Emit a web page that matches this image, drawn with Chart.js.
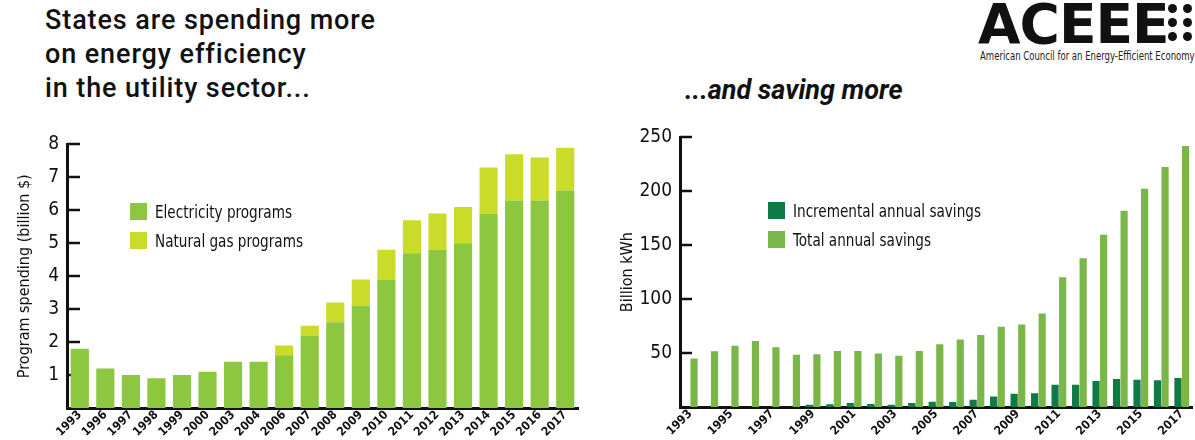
<!DOCTYPE html>
<html>
<head>
<meta charset="utf-8">
<script src="https://cdn.jsdelivr.net/npm/chart.js@4.4.1/dist/chart.umd.min.js"></script>
<style>
  body { margin: 0; background: #fff; width: 1195px; height: 440px; position: relative; overflow: hidden; font-family: Roboto, "Open Sans", sans-serif; }
  .title { position: absolute; left: 45px; top: 3px; font-size: 27px; font-weight: 500; line-height: 34px; letter-spacing: 0.9px; color: #111; }
  .subtitle { position: absolute; left: 685px; top: 73px; font-size: 27px; line-height: 34px; font-weight: 700; font-style: italic; color: #111; }
  .logo-big { position: absolute; left: 978px; top: -8px; font-family: "DejaVu Sans", sans-serif; font-weight: 700; font-size: 55px; letter-spacing: -1px; color: #111; }
  .dots { position: absolute; left: 1168px; top: 4px; display: grid; grid-template-columns: repeat(2, 9px); gap: 5px 6px; }
  .dots i { width: 9px; height: 9px; border-radius: 50%; background: #111; display: block; }
  .logo-small { position: absolute; left: 980px; top: 49px; font-family: "DejaVu Sans Condensed", sans-serif; font-size: 12px; color: #222; white-space: nowrap; transform: scaleX(0.79); transform-origin: left top; }
  .wrap { position: absolute; }
  .legend { position: absolute; font-family: "DejaVu Sans Condensed", sans-serif; font-size: 18px; color: #111; }
  .legend div { height: 29px; display: flex; align-items: center; }
  .legend span.sw { width: 17px; height: 17px; display: inline-block; margin-right: 8px; flex: none; }
  .legend span.tx { display: inline-block; transform: scaleX(0.84); transform-origin: left center; white-space: nowrap; }
</style>
</head>
<body>
<div class="title">States are spending more<br>on energy efficiency<br>in the utility sector...</div>
<div class="subtitle">...and saving more</div>
<div class="logo-big">ACEEE</div>
<div class="dots"><i></i><i></i><i></i><i></i><i></i><i></i></div>
<div class="logo-small">American Council for an Energy-Efficient Economy</div>

<div class="wrap" style="left:0;top:125px;width:590px;height:315px;"><canvas id="spend"></canvas></div>
<div class="wrap" style="left:600px;top:118px;width:595px;height:322px;"><canvas id="save"></canvas></div>
<div class="legend" id="legendSpend" style="left:130px;top:197px;"></div>
<div class="legend" id="legendSave" style="left:768px;top:196px;"></div>

<script>
// left chart: program spending (billion $)
const spendYears = ['1993','1996','1997','1998','1999','2000','2003','2004','2006','2007','2008','2009','2010','2011','2012','2013','2014','2015','2016','2017'];
const electricity = [1.8,1.2,1.0,0.9,1.0,1.1,1.4,1.4,1.6,2.2,2.6,3.1,3.9,4.7,4.8,5.0,5.9,6.3,6.3,6.6];
const naturalGas  = [0,0,0,0,0,0,0,0,0.3,0.3,0.6,0.8,0.9,1.0,1.1,1.1,1.4,1.4,1.3,1.3];

// right chart: savings (billion kWh)
const saveYears = ['1993','1994','1995','1996','1997','1998','1999','2000','2001','2002','2003','2004','2005','2006','2007','2008','2009','2010','2011','2012','2013','2014','2015','2016','2017'];
const incremental = [null,null,null,null,null,null,2,2.5,3.7,2.7,2,3.7,4.9,4.6,6.7,9.8,12.2,12.8,20.7,20.7,24,26,25.3,24.7,26.8];
const totalSavings = [45,51.8,56.7,61.3,55.5,48.5,49,52,52,49.7,47.6,52,58.2,62.5,66.8,74.4,76.5,86.6,120.4,138,159.8,182,202.4,222.6,242];

const narrow = '"DejaVu Sans Condensed", "DejaVu Sans", sans-serif';
Chart.defaults.font.family = narrow;
Chart.defaults.color = '#111';

// short tick marks pointing into the plot, like the original
const innerTicks = {
  id: 'innerTicks',
  beforeDatasetsDraw(chart, args, opts) {
    const y = chart.scales.y;
    const ctx = chart.ctx;
    ctx.save();
    ctx.strokeStyle = '#111';
    ctx.lineWidth = 2.5;
    y.ticks.forEach(t => {
      const py = Math.round(y.getPixelForValue(t.value));
      ctx.beginPath();
      ctx.moveTo(y.right, py);
      ctx.lineTo(y.right + opts.length, py);
      ctx.stroke();
    });
    ctx.restore();
  }
};

function makeLegend(id, items) {
  const el = document.getElementById(id);
  items.forEach(it => {
    const row = document.createElement('div');
    row.innerHTML = '<span class="sw" style="background:' + it.color + '"></span><span class="tx">' + it.label + '</span>';
    el.appendChild(row);
  });
}

function axisY(max, step, title, width, titlePad) {
  return {
    min: 0, max: max,
    ticks: { stepSize: step, font: { size: 19 }, color: '#111', padding: 8 },
    afterBuildTicks: axis => { axis.ticks = axis.ticks.filter(t => t.value !== 0); },
    afterFit: axis => { axis.width = width; },
    grid: { display: false, drawTicks: false },
    border: { display: true, color: '#111', width: 3 },
    title: { display: true, text: title, font: { size: 16 }, color: '#111', padding: { top: titlePad, bottom: 0 } }
  };
}

function axisX(height, labels, every) {
  return {
    ticks: {
      autoSkip: false, maxRotation: 45, minRotation: 45, font: { size: 12, weight: 'bold' }, color: '#111', padding: 0,
      callback: (v, i) => (i % every === 0 ? labels[i] : '')
    },
    afterFit: axis => { axis.height = height; },
    grid: { display: false, drawTicks: false },
    border: { display: true, color: '#111', width: 3 }
  };
}

const spendColors = ['#8dc63f', '#cadb2a'];
new Chart(document.getElementById('spend'), {
  type: 'bar',
  data: {
    labels: spendYears,
    datasets: [
      { label: 'Electricity programs', data: electricity, backgroundColor: spendColors[0] },
      { label: 'Natural gas programs', data: naturalGas, backgroundColor: spendColors[1] }
    ]
  },
  options: {
    responsive: true, maintainAspectRatio: false, animation: false,
    layout: { padding: { left: 0, right: 12, top: 17, bottom: 0 } },
    plugins: { legend: { display: false }, tooltip: { enabled: false }, innerTicks: { length: 13 } },
    datasets: { bar: { barPercentage: 1.0, categoryPercentage: 0.71 } },
    scales: {
      x: Object.assign(axisX(32, spendYears, 1), { stacked: true }),
      y: Object.assign(axisY(8, 1, 'Program spending (billion $)', 67, 15), { stacked: true })
    }
  },
  plugins: [innerTicks]
});
makeLegend('legendSpend', [
  { label: 'Electricity programs', color: spendColors[0] },
  { label: 'Natural gas programs', color: spendColors[1] }
]);

const saveColors = ['#0f7a45', '#7ab648'];
new Chart(document.getElementById('save'), {
  type: 'bar',
  data: {
    labels: saveYears,
    datasets: [
      { label: 'Incremental annual savings', data: incremental, backgroundColor: saveColors[0] },
      { label: 'Total annual savings', data: totalSavings, backgroundColor: saveColors[1] }
    ]
  },
  options: {
    responsive: true, maintainAspectRatio: false, animation: false,
    layout: { padding: { left: 0, right: 3, top: 17, bottom: 0 } },
    plugins: { legend: { display: false }, tooltip: { enabled: false }, innerTicks: { length: 12 } },
    datasets: { bar: { barPercentage: 0.95, categoryPercentage: 0.74 } },
    scales: {
      x: axisX(33, saveYears, 2),
      y: axisY(250, 50, 'Billion kWh', 80, 18)
    }
  },
  plugins: [innerTicks]
});
makeLegend('legendSave', [
  { label: 'Incremental annual savings', color: saveColors[0] },
  { label: 'Total annual savings', color: saveColors[1] }
]);
</script>
</body>
</html>
